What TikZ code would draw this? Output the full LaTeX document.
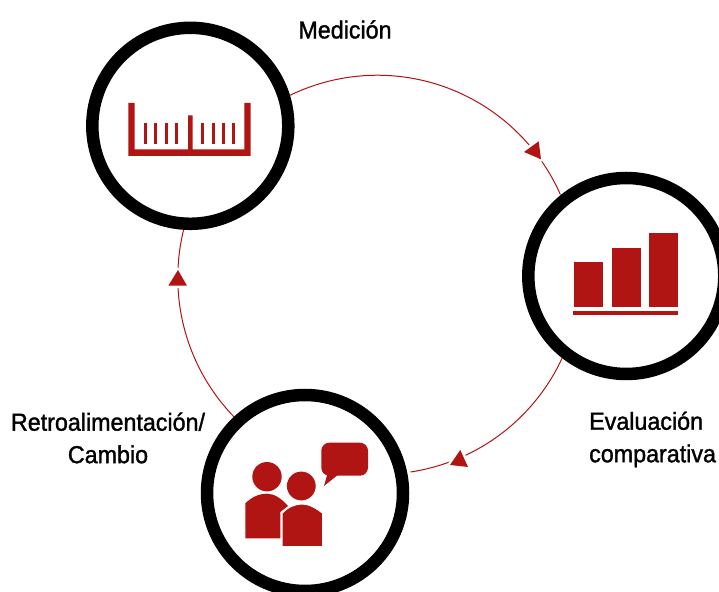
\documentclass[tikz,border=0pt]{standalone}
\usepackage{fontspec}
\setmainfont{Liberation Sans}[FakeBold=1.3,FakeStretch=0.95]
\definecolor{brick}{HTML}{B01513}
\tikzset{
  ring/.style={circle,draw=black,line width=12.5pt,minimum size=196pt,inner sep=0pt},
  flow/.style={draw=brick,line width=1pt},
  head/.style={fill=white,draw=white,line width=5pt,line join=round},
  tip/.style={fill=brick},
  icon/.style={fill=brick},
  lbl/.style={inner sep=0pt,text=black,font=\fontsize{24.5}{32.5}\selectfont}
}
\begin{document}
\begin{tikzpicture}[x=1pt,y=1pt]
\useasboundingbox (0,0) rectangle (719,591);
\fill[white] (0,0) rectangle (719,591);
\node[ring] (med) at (190.3,465.2) {};
\node[ring] (eva) at (626.3,315) {};
\node[ring] (ret) at (305,98) {};
% connectors on the large circle (centre 378,316, radius 200)
\draw[flow] (med.17.2) arc[start angle=115.9,end angle=23.8,radius=200pt];
\draw[flow] (eva.232.7) arc[start angle=-24.8,end angle=-81.4,radius=200pt];
\draw[flow] (ret.133) arc[start angle=224,end angle=166.2,radius=200pt];
% arrowheads
\filldraw[head] (538.7,449.7) -- (524,439) -- (541,431.7) -- cycle;
\fill[tip] (538.7,449.7) -- (524,439) -- (541,431.7) -- cycle;
\filldraw[head] (460.3,141) -- (450,126) -- (468,124) -- cycle;
\fill[tip] (460.3,141) -- (450,126) -- (468,124) -- cycle;
\filldraw[head] (178,321) -- (168.3,305.3) -- (187,305.3) -- cycle;
\fill[tip] (178,321) -- (168.3,305.3) -- (187,305.3) -- cycle;
% labels
\node[lbl] (lmed) at (345,561.5) {Medición};
\node[lbl,align=center] (lret) at (108,153) {Retroalimentación/\\Cambio};
\node[lbl,align=left,anchor=west] (leva) at (589,151.5) {Evaluación\\comparativa};
\begin{scope}[shift={(0,591)},y=-1pt]
  % ruler
  \fill[icon] (128.3,103) -- (134.7,103) -- (134.7,149.3) -- (188,149.3) -- (188,115.3) -- (192.7,115.3) -- (192.7,149.3)
     -- (244.3,149.3) -- (244.3,103) -- (250.7,103) -- (250.7,156) -- (128.3,156) -- cycle;
  \foreach \t in {144,154,165,175,201,212,222,232}
    \fill[icon] (\t,123) rectangle (\t+3,144);
  % bars
  \fill[icon] (574,262) rectangle (603,307);
  \fill[icon] (612,248) rectangle (641,307);
  \fill[icon] (649,233) rectangle (678,307);
  \fill[icon] (573,311) rectangle (678,315);
  % people
  \fill[icon] (267,476.7) circle[radius=14.7pt];
  \fill[icon] (301.3,486) circle[radius=14.4pt];
  \fill[icon] (245.3,538.3) -- (245.3,503.3) .. controls (252,497) and (259,493.7) .. (266.7,493.7)
     .. controls (274,493.7) and (281,498) .. (288,506) -- (280.3,512) -- (280.3,538.3) -- cycle;
  \filldraw[icon,draw=white,line width=1pt] (282,546.7) -- (282,513.3) .. controls (288,507) and (295,504) .. (302,504)
     .. controls (309,504) and (316,508) .. (322.7,513.3) -- (322.7,546.7) -- cycle;
  % speech bubble
  \fill[icon,rounded corners=8pt] (321.3,442.7) rectangle (368,475.7);
  \fill[icon] (337.7,475) -- (324,486) -- (327.7,473) -- cycle;
\end{scope}
\end{tikzpicture}
\end{document}
